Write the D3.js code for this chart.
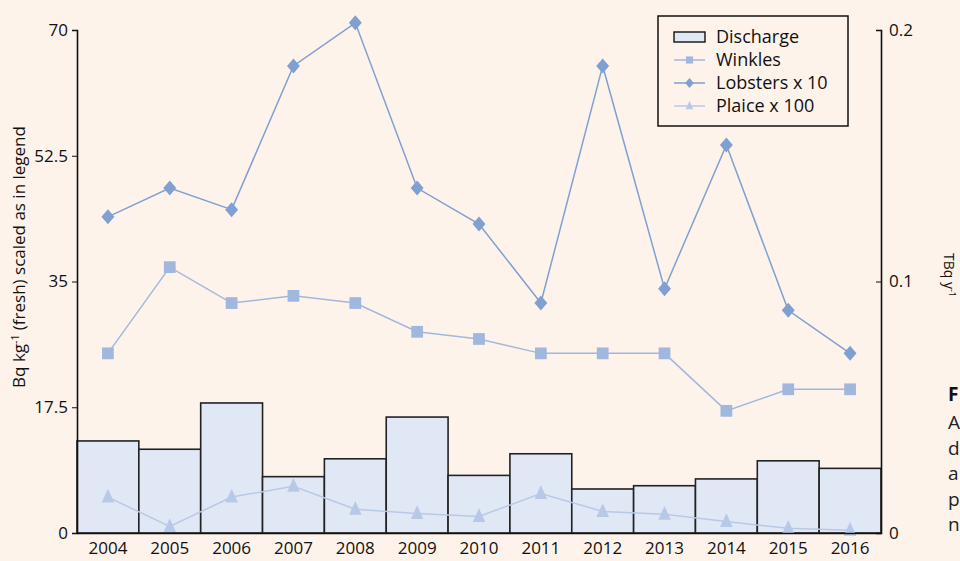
<!DOCTYPE html>
<html>
<head>
<meta charset="utf-8">
<script src="https://cdn.jsdelivr.net/npm/d3@7"></script>
<style>
  body { margin: 0; background: #fdf3ea; }
  svg { display: block; font-family: "Open Sans", "Noto Sans", sans-serif; }
</style>
</head>
<body>
<script>
// values
var years = ["2004","2005","2006","2007","2008","2009","2010","2011","2012","2013","2014","2015","2016"];
var discharge = [0.0366, 0.0333, 0.0517, 0.0224, 0.0295, 0.0461, 0.0229, 0.0315, 0.0175, 0.0188, 0.0215, 0.0287, 0.0257]; // TBq y-1
var winkles = [25, 37, 32, 33, 32, 28, 27, 25, 25, 25, 17, 20, 20];
var lobsters = [44, 48, 45, 65, 71, 48, 43, 32, 65, 34, 54, 31, 25];   // x 10
var plaice = [5.0, 0.9, 5.0, 6.5, 3.3, 2.7, 2.3, 5.5, 3.0, 2.6, 1.6, 0.65, 0.4]; // x 100
var leftTicks = [0, 17.5, 35, 52.5, 70];
var rightTicks = [0, 0.1, 0.2];
var captionLetters = ["A", "d", "a", "p", "n"];

var W = 960, H = 561;
var m = {left: 77, right: 79, top: 30, bottom: 28};

var svg = d3.select("body").append("svg").attr("width", W).attr("height", H);
svg.append("rect").attr("width", W).attr("height", H).attr("fill", "#fdf3ea");

var x = d3.scaleBand().domain(years).range([m.left, W - m.right]).padding(0);
var yL = d3.scaleLinear().domain([0, 70]).range([H - m.bottom, m.top]);
var yR = d3.scaleLinear().domain([0, 0.2]).range([H - m.bottom, m.top]);

// custom marker shapes, size = scale factor
var diamond = {draw: function(c, s) { var w = s * 0.43, h = s * 0.5;
  c.moveTo(0, -h); c.lineTo(w, 0); c.lineTo(0, h); c.lineTo(-w, 0); c.closePath(); }};
var square = {draw: function(c, s) { var h = s * 0.42;
  c.rect(-h, -h, 2 * h, 2 * h); }};
var triangle = {draw: function(c, s) { var w = s * 0.42, h = s * 0.46;
  c.moveTo(0, -h * 1.2); c.lineTo(w, h * 0.8); c.lineTo(-w, h * 0.8); c.closePath(); }};

// bars
svg.selectAll(".bar").data(discharge).enter().append("rect")
  .attr("class", "bar")
  .attr("x", function(d, i) { return x(years[i]); })
  .attr("width", x.bandwidth())
  .attr("y", function(d) { return yR(d); })
  .attr("height", function(d) { return yR(0) - yR(d); })
  .attr("fill", "#e1e8f5").attr("stroke", "#222").attr("stroke-width", 1.6);

var cx = function(d, i) { return x(years[i]) + x.bandwidth() / 2; };

var series = [
  {name: "Plaice x 100", data: plaice, color: "#b8c9e7", sym: triangle, size: 15, lsize: 9},
  {name: "Winkles", data: winkles, color: "#a0b8dd", sym: square, size: 14, lsize: 8.5},
  {name: "Lobsters x 10", data: lobsters, color: "#7fa0d0", sym: diamond, size: 15, lsize: 10}
];

series.forEach(function(s) {
  var line = d3.line().x(cx).y(function(d) { return yL(d); });
  svg.append("path").datum(s.data).attr("d", line)
    .attr("fill", "none").attr("stroke", s.color).attr("stroke-width", 1.5);
  svg.selectAll(null).data(s.data).enter().append("path")
    .attr("d", d3.symbol().type(s.sym).size(s.size))
    .attr("transform", function(d, i) { return "translate(" + cx(d, i) + "," + yL(d) + ")"; })
    .attr("fill", s.color);
});

// axes
var gl = svg.append("g").attr("transform", "translate(" + m.left + ",0)")
  .call(d3.axisLeft(yL).tickValues(leftTicks).tickSize(5).tickPadding(4).tickFormat(d3.format("")));
var gr = svg.append("g").attr("transform", "translate(" + (W - m.right) + ",0)")
  .call(d3.axisRight(yR).tickValues(rightTicks).tickSize(-5).tickPadding(8).tickFormat(function(d) { return d === 0 ? "0" : d3.format(".1f")(d); }));
var gb = svg.append("g").attr("transform", "translate(0," + (H - m.bottom) + ")")
  .call(d3.axisBottom(x).tickSize(0).tickPadding(9));

[gl, gr, gb].forEach(function(g) {
  g.attr("font-size", 17).attr("font-family", "Open Sans, sans-serif");
  g.select(".domain").attr("stroke", "#111").attr("stroke-width", 1.6);
  g.selectAll(".tick line").attr("stroke", "#111");
  g.selectAll("text").attr("fill", "#111");
});

// axis titles
var lt = svg.append("text").attr("transform", "translate(25,257) rotate(-90)")
  .attr("text-anchor", "middle").attr("font-size", 17).attr("fill", "#111");
lt.append("tspan").text("Bq kg");
lt.append("tspan").attr("font-size", 10.5).attr("dy", -6).text("-1");
lt.append("tspan").attr("dy", 6).text(" (fresh) scaled as in legend");

var rt = svg.append("text").attr("transform", "translate(944,275) rotate(90)")
  .attr("text-anchor", "middle").attr("font-size", 14).attr("fill", "#111");
rt.append("tspan").text("TBq y");
rt.append("tspan").attr("font-size", 9).attr("dy", -5).text("-1");

// legend
var lg = svg.append("g").attr("transform", "translate(658,16)");
lg.append("rect").attr("width", 190).attr("height", 110)
  .attr("fill", "#fdf3ea").attr("stroke", "#111").attr("stroke-width", 1.5);
var rows = [{name: "Discharge"}].concat([series[1], series[2], series[0]]);
rows.forEach(function(r, i) {
  var ry = 21 + i * 23;
  if (!r.color) {
    lg.append("rect").attr("x", 16).attr("y", ry - 5).attr("width", 31).attr("height", 10)
      .attr("fill", "#e1e8f5").attr("stroke", "#111").attr("stroke-width", 1.4);
  } else {
    lg.append("line").attr("x1", 16).attr("x2", 47).attr("y1", ry).attr("y2", ry)
      .attr("stroke", r.color).attr("stroke-width", 1.5);
    lg.append("path").attr("d", d3.symbol().type(r.sym).size(r.lsize))
      .attr("transform", "translate(31.5," + ry + ")").attr("fill", r.color);
  }
  lg.append("text").attr("x", 58).attr("y", ry).attr("dy", "0.35em")
    .attr("font-size", 18).attr("fill", "#111").text(r.name);
});

// caption fragment at the right edge
svg.append("text").attr("x", 948).attr("y", 401).attr("font-size", 19)
  .attr("font-weight", "bold").attr("fill", "#111").text("F");
svg.selectAll(".cap").data(captionLetters).enter().append("text")
  .attr("x", 948).attr("y", function(d, i) { return 429 + i * 25.5; })
  .attr("font-size", 19).attr("fill", "#222").text(function(d) { return d; });
</script>
</body>
</html>
